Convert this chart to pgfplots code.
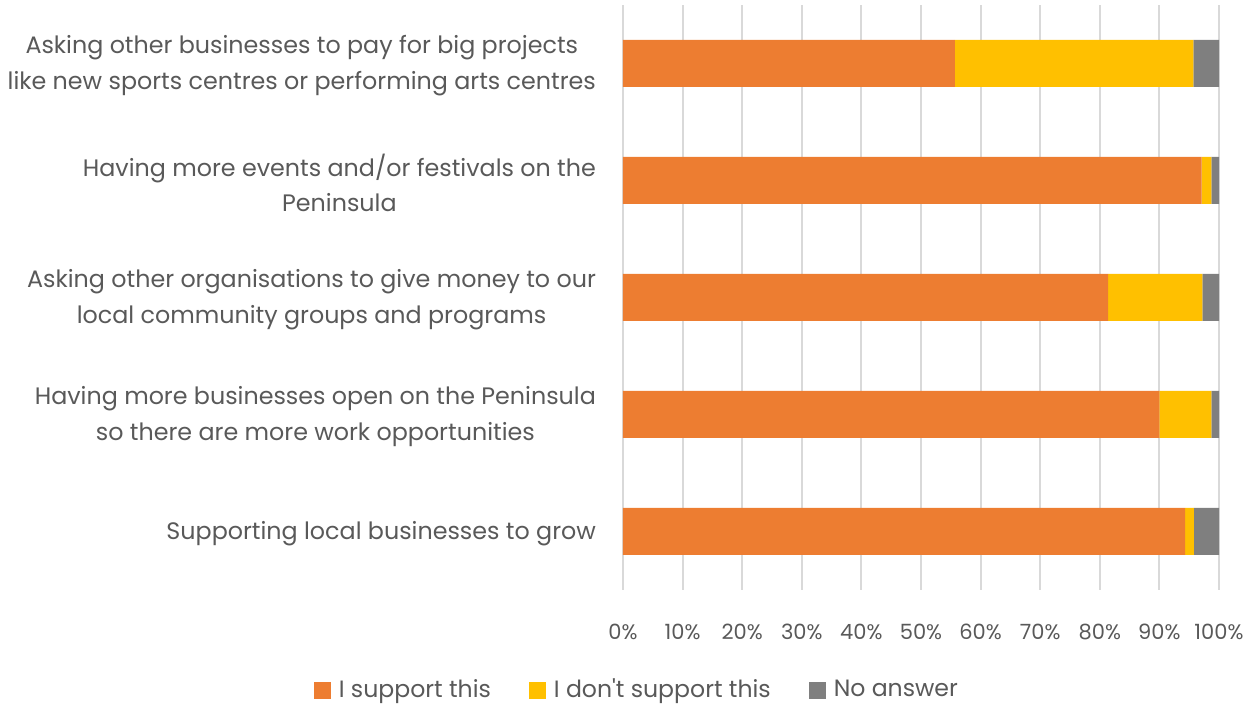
\documentclass[border=0pt]{standalone}
\usepackage{fontspec}
\setmainfont{Poppins}
\usepackage{pgfplots}
\pgfplotsset{compat=1.18}
\definecolor{cSup}{HTML}{ED7D31}
\definecolor{cNot}{HTML}{FFC000}
\definecolor{cNo}{HTML}{7F7F7F}
\definecolor{txt}{HTML}{595959}
\definecolor{grd}{HTML}{D9D9D9}

\begin{document}
\begin{tikzpicture}
\useasboundingbox (-311.5pt,-57.5pt) rectangle (317pt,295pt);
\begin{axis}[
at={(0pt,0pt)}, anchor=south west,
scale only axis,
width=298pt, height=292.5pt,
xbar stacked,
bar width=23.5pt,
xmin=0, xmax=100,
ymin=-0.5, ymax=4.5,
xtick={0,10,...,100},
ytick={0,1,2,3,4},
yticklabels={
  Supporting local businesses to grow,
  {Having more businesses open on the Peninsula\\so there are more work opportunities},
  {Asking other organisations to give money to our\\local community groups and programs},
  {Having more events and/or festivals on the\\Peninsula},
  {Asking other businesses to pay for big projects\\like new sports centres or performing arts centres}},
xticklabel={\pgfmathprintnumber{\tick}\%},
/pgf/number format/assume math mode=true,
xmajorgrids,
grid style={grd, line width=1pt},
axis line style={draw=none},
major tick length=0pt,
tick style={draw=none},
xticklabel style={font=\fontsize{10.5}{12}\selectfont, text=txt, yshift=-13.5pt},
yticklabel style={font=\fontsize{11.9}{18}\selectfont, text=txt, align=center, xshift=-10pt, yshift=-1.2pt},
legend style={at={(0.025,-0.171)}, anchor=center, draw=none, fill=none,
  legend columns=3, font=\fontsize{11.8}{13}\selectfont, text=txt,
  /tikz/every even column/.append style={column sep=17pt},
  /tikz/every odd column/.append style={column sep=2pt}},
legend image code/.code={\fill[#1] (0pt,-4.25pt) rectangle (8.5pt,4.25pt);},
]
\addplot[fill=cSup, draw=none] coordinates {(94.3,0) (90.0,1) (81.4,2) (97.1,3) (55.7,4)};
\addplot[fill=cNot, draw=none] coordinates {(1.5,0) (8.7,1) (15.8,2) (1.6,3) (40.0,4)};
\addplot[fill=cNo, draw=none] coordinates {(4.2,0) (1.3,1) (2.8,2) (1.3,3) (4.3,4)};
\legend{I support this, I don\textquotesingle t support this, No answer}
\end{axis}
\end{tikzpicture}
\end{document}
